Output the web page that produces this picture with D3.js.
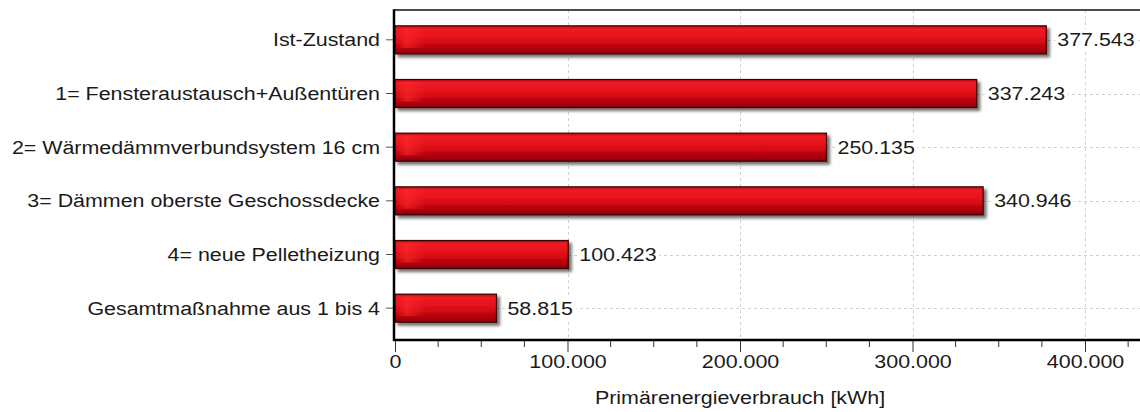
<!DOCTYPE html>
<html>
<head>
<meta charset="utf-8">
<script src="https://cdn.jsdelivr.net/npm/d3@7"></script>
<style>
  html, body { margin: 0; padding: 0; background: #fff; }
  svg { display: block; }
  text { font-family: "Liberation Sans", Arial, sans-serif; fill: #1a1a1a; }
</style>
</head>
<body>
<svg id="chart" width="1140" height="412"></svg>
<script>
const categories = [
  "Ist-Zustand",
  "1= Fensteraustausch+Außentüren",
  "2= Wärmedämmverbundsystem 16 cm",
  "3= Dämmen oberste Geschossdecke",
  "4= neue Pelletheizung",
  "Gesamtmaßnahme aus 1 bis 4"
];
const values = [377543, 337243, 250135, 340946, 100423, 58815];
const valueLabels = ["377.543", "337.243", "250.135", "340.946", "100.423", "58.815"];
const xTicks = [0, 100000, 200000, 300000, 400000];
const xTickLabels = ["0", "100.000", "200.000", "300.000", "400.000"];
const xMinorTicks = d3.range(0, 450000, 25000);
const xTitle = "Primärenergieverbrauch [kWh]";

const W = 1140, H = 412;
const plotL = 394, plotT = 10, plotB = 340, plotR = 1160;
const SX = 1.19;       // horizontal text stretch of the original
const FS = 18;

const svg = d3.select("#chart");
const defs = svg.append("defs");

const grad = defs.append("linearGradient").attr("id", "barGrad")
  .attr("x1", 0).attr("y1", 0).attr("x2", 0).attr("y2", 1);
[[0, "#b80c14"], [0.12, "#ee1c24"], [0.45, "#e2101a"], [0.8, "#b5000b"], [1, "#880006"]]
  .forEach(([o, c]) => grad.append("stop").attr("offset", o).attr("stop-color", c));

const hl = defs.append("linearGradient").attr("id", "barHl")
  .attr("x1", 0).attr("y1", 0).attr("x2", 1).attr("y2", 0);
hl.append("stop").attr("offset", 0).attr("stop-color", "#ff2a2a").attr("stop-opacity", 0.0);
hl.append("stop").attr("offset", 0.35).attr("stop-color", "#ff2a2a").attr("stop-opacity", 0.6);
hl.append("stop").attr("offset", 1).attr("stop-color", "#ff2a2a").attr("stop-opacity", 0);

const shadow = defs.append("filter").attr("id", "shadow")
  .attr("x", "-10%").attr("y", "-30%").attr("width", "130%").attr("height", "190%");
shadow.append("feGaussianBlur").attr("in", "SourceAlpha").attr("stdDeviation", 1.8).attr("result", "b");
shadow.append("feOffset").attr("in", "b").attr("dx", 3).attr("dy", 3).attr("result", "o");
shadow.append("feComponentTransfer").attr("in", "o").attr("result", "s")
  .append("feFuncA").attr("type", "linear").attr("slope", 0.55);
const merge = shadow.append("feMerge");
merge.append("feMergeNode").attr("in", "s");
merge.append("feMergeNode").attr("in", "SourceGraphic");

const x = d3.scaleLinear().domain([0, 400000]).range([395, 1085]);
const y = d3.scaleBand().domain(categories).range([13, 335])
  .paddingInner(0.478).paddingOuter(0.239);

function stretch(sel) {
  sel.each(function () {
    const t = d3.select(this);
    const xx = +t.attr("x") || 0;
    const yy = +t.attr("y") || 0;
    t.attr("x", 0).attr("y", 0)
      .attr("transform", `translate(${xx},${yy}) scale(${SX},1)`);
  });
}

// gridlines
const grid = svg.append("g").attr("stroke", "#cfcfcf").attr("stroke-width", 1)
  .attr("stroke-dasharray", "3,3");
grid.selectAll("line.v").data(xTicks.filter(d => d > 0)).join("line")
  .attr("x1", d => Math.round(x(d)) + 0.5).attr("x2", d => Math.round(x(d)) + 0.5)
  .attr("y1", plotT).attr("y2", plotB);
grid.selectAll("line.h").data(categories).join("line")
  .attr("x1", plotL).attr("x2", plotR)
  .attr("y1", d => Math.round(y(d) + y.bandwidth() / 2) + 0.5)
  .attr("y2", d => Math.round(y(d) + y.bandwidth() / 2) + 0.5);

// bars
const bars = svg.append("g");
bars.selectAll("rect.bar").data(values).join("rect").attr("class", "bar")
  .attr("x", x(0)).attr("y", (d, i) => y(categories[i]))
  .attr("width", d => x(d) - x(0)).attr("height", y.bandwidth())
  .attr("fill", "url(#barGrad)").attr("stroke", "#3a0000").attr("stroke-width", 1.2)
  .attr("filter", "url(#shadow)");
bars.selectAll("rect.hl").data(values).join("rect").attr("class", "hl")
  .attr("x", x(0) + 1).attr("y", (d, i) => y(categories[i]) + 2)
  .attr("width", d => Math.min(30, x(d) - x(0) - 2)).attr("height", y.bandwidth() - 8)
  .attr("fill", "url(#barHl)");

// value labels
const vl = svg.append("g");
const vg = vl.selectAll("g").data(values).join("g")
  .attr("transform", (d, i) => `translate(${x(d) + 11},${y(categories[i]) + y.bandwidth() / 2})`);
vg.append("rect").attr("x", -2).attr("y", -11).attr("height", 22)
  .attr("width", (d, i) => valueLabels[i].length * 11.1 + 4).attr("fill", "#fff");
vg.append("text").text((d, i) => valueLabels[i]).attr("font-size", FS).attr("dy", "0.36em")
  .attr("transform", `scale(${SX},1)`);

// left axis
const yAxis = svg.append("g").attr("transform", `translate(${plotL},0)`)
  .call(d3.axisLeft(y).tickSize(8).tickPadding(6));
yAxis.select(".domain").remove();
yAxis.selectAll(".tick line").attr("stroke", "#555");
yAxis.selectAll(".tick text").attr("font-size", FS).attr("fill", "#1a1a1a")
  .attr("font-family", "Liberation Sans, Arial, sans-serif")
  .attr("x", -14).attr("dy", "0.36em").call(stretch);

// bottom axis
const xAxis = svg.append("g").attr("transform", `translate(0,${plotB})`)
  .call(d3.axisBottom(x).tickValues(xTicks).tickSize(12).tickPadding(0)
    .tickFormat((d, i) => xTickLabels[i]));
xAxis.select(".domain").remove();
xAxis.selectAll(".tick line").attr("stroke", "#333");
xAxis.selectAll(".tick text").attr("font-size", FS).attr("fill", "#1a1a1a")
  .attr("font-family", "Liberation Sans, Arial, sans-serif")
  .attr("dy", null).attr("y", 28).call(stretch);
xAxis.selectAll("line.minor").data(xMinorTicks.filter(d => d % 100000 !== 0)).join("line")
  .attr("class", "minor")
  .attr("x1", d => x(d)).attr("x2", d => x(d)).attr("y1", 0).attr("y2", 7)
  .attr("stroke", "#333");

// frame lines
svg.append("line").attr("x1", plotL).attr("x2", plotR).attr("y1", plotT).attr("y2", plotT)
  .attr("stroke", "#111").attr("stroke-width", 1.5);
svg.append("line").attr("x1", plotL).attr("x2", plotL).attr("y1", plotT - 0.75).attr("y2", plotB + 1)
  .attr("stroke", "#000").attr("stroke-width", 2.5);
svg.append("line").attr("x1", plotL - 1).attr("x2", plotR).attr("y1", plotB).attr("y2", plotB)
  .attr("stroke", "#000").attr("stroke-width", 2.5);

// axis title
svg.append("text").attr("font-size", FS).attr("text-anchor", "middle")
  .attr("transform", `translate(${(x(0) + x(400000)) / 2},404) scale(${SX},1)`)
  .text(xTitle);
</script>
</body>
</html>
